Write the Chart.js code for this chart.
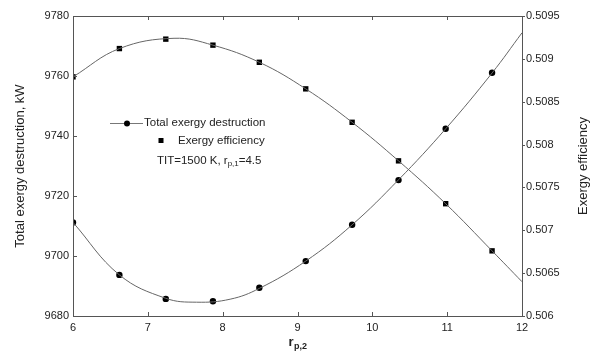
<!DOCTYPE html>
<html>
<head>
<meta charset="utf-8">
<script src="https://cdn.jsdelivr.net/npm/chart.js@4"></script>
<style>
  html, body { margin: 0; padding: 0; background: #fff; }
  #wrap { width: 593px; height: 361px; }
</style>
</head>
<body>
<div id="wrap"><canvas id="chart" width="593" height="361"></canvas></div>
<script>
// marker positions (r_p,2)
const rp2 = [6, 6.62, 7.24, 7.87, 8.49, 9.11, 9.73, 10.35, 10.98, 11.6];
const destruction = [9711.2, 9693.7, 9685.7, 9684.9, 9689.4, 9698.3, 9710.4, 9725.3, 9742.4, 9761.1];
const efficiency = [0.50879, 0.50912, 0.50923, 0.50916, 0.50896, 0.50865, 0.50826, 0.50781, 0.50731, 0.50676];

// fitted curves
const destrCurveX = [6, 6.62, 7.24, 7.65, 8.1, 8.49, 9.11, 9.73, 10.35, 10.98, 11.6, 12];
const destrCurveY = [9711.2, 9693.7, 9685.9, 9684.6, 9685.6, 9689.2, 9698.3, 9710.4, 9725.4, 9742.4, 9761.0, 9774.4];
const effCurveX = [6, 6.62, 7.35, 7.87, 8.49, 9.11, 9.73, 10.35, 10.98, 11.6, 12];
const effCurveY = [0.50879, 0.50912, 0.50924, 0.50916, 0.50896, 0.50865, 0.50826, 0.50781, 0.50731, 0.50676, 0.50640];

const xTicks = [6, 7, 8, 9, 10, 11, 12];
const leftTicks = [9680, 9700, 9720, 9740, 9760, 9780];
const rightTicks = [0.506, 0.5065, 0.507, 0.5075, 0.508, 0.5085, 0.509, 0.5095];

const pts = (xs, ys) => xs.map((x, i) => ({ x: x, y: ys[i] }));
const axisColor = '#555';
const textColor = '#222';
const fam = '"Liberation Sans", Arial, sans-serif';

const frame = {
  id: 'frame',
  afterDraw(chart) {
    const ctx = chart.ctx;
    const a = chart.chartArea;
    const sx = chart.scales.x, yl = chart.scales.y, yr = chart.scales.y2;
    ctx.save();
    ctx.strokeStyle = axisColor;
    ctx.lineWidth = 1;
    ctx.strokeRect(Math.round(a.left) + 0.5, Math.round(a.top) + 0.5, Math.round(a.right - a.left), Math.round(a.bottom - a.top));
    ctx.beginPath();
    xTicks.forEach(v => {
      const px = Math.round(sx.getPixelForValue(v)) + 0.5;
      ctx.moveTo(px, a.bottom); ctx.lineTo(px, a.bottom - 4);
      ctx.moveTo(px, a.top); ctx.lineTo(px, a.top + 4);
    });
    leftTicks.forEach(v => {
      const py = Math.round(yl.getPixelForValue(v)) + 0.5;
      ctx.moveTo(a.left, py); ctx.lineTo(a.left + 4, py);
    });
    rightTicks.forEach(v => {
      const py = Math.round(yr.getPixelForValue(v)) + 0.5;
      ctx.moveTo(a.right, py); ctx.lineTo(a.right + 3, py);
    });
    ctx.stroke();

    // axis titles
    ctx.fillStyle = textColor;
    ctx.font = '13px ' + fam;
    ctx.textAlign = 'center';
    ctx.textBaseline = 'middle';
    ctx.save();
    ctx.translate(20, (a.top + a.bottom) / 2);
    ctx.rotate(-Math.PI / 2);
    ctx.fillText('Total exergy destruction, kW', 0, 0);
    ctx.restore();
    ctx.save();
    ctx.translate(583, (a.top + a.bottom) / 2);
    ctx.rotate(-Math.PI / 2);
    ctx.fillText('Exergy efficiency', 0, 0);
    ctx.restore();

    // x title r_p,2
    ctx.textAlign = 'left';
    ctx.textBaseline = 'alphabetic';
    ctx.font = 'bold 13px ' + fam;
    const rw = ctx.measureText('r').width;
    ctx.font = 'bold 9px ' + fam;
    const sw = ctx.measureText('p,2').width;
    const x0 = (a.left + a.right) / 2 - (rw + sw) / 2;
    ctx.font = 'bold 13px ' + fam;
    ctx.fillText('r', x0, 346);
    ctx.font = 'bold 9px ' + fam;
    ctx.fillText('p,2', x0 + rw + 0.5, 349);

    // legend
    ctx.font = '11.5px ' + fam;
    ctx.textBaseline = 'middle';
    ctx.strokeStyle = '#777';
    ctx.beginPath();
    ctx.moveTo(110, 123.5); ctx.lineTo(143, 123.5);
    ctx.stroke();
    ctx.fillStyle = '#000';
    ctx.beginPath();
    ctx.arc(127, 123.5, 3, 0, Math.PI * 2);
    ctx.fill();
    ctx.fillRect(158.5, 138, 5, 5);
    ctx.fillStyle = textColor;
    ctx.fillText('Total exergy destruction', 144, 123);
    ctx.fillText('Exergy efficiency', 178, 141);
    const t1 = 'TIT=1500 K, r';
    ctx.fillText(t1, 157, 161);
    const tw = ctx.measureText(t1).width;
    ctx.font = '8px ' + fam;
    ctx.fillText('p,1', 157 + tw, 164);
    const tw2 = ctx.measureText('p,1').width;
    ctx.font = '11.5px ' + fam;
    ctx.fillText('=4.5', 157 + tw + tw2, 161);
    ctx.restore();
  }
};

new Chart(document.getElementById('chart'), {
  type: 'line',
  data: {
    datasets: [
      {
        label: 'destruction fit',
        data: pts(destrCurveX, destrCurveY),
        yAxisID: 'y',
        borderColor: '#666',
        borderWidth: 1,
        pointRadius: 0,
        tension: 0.4,
        fill: false
      },
      {
        label: 'Total exergy destruction',
        data: pts(rp2, destruction),
        yAxisID: 'y',
        showLine: false,
        pointStyle: 'circle',
        pointRadius: 3.2,
        pointBackgroundColor: '#000',
        pointBorderColor: '#000',
        pointBorderWidth: 0
      },
      {
        label: 'efficiency fit',
        data: pts(effCurveX, effCurveY),
        yAxisID: 'y2',
        borderColor: '#666',
        borderWidth: 1,
        pointRadius: 0,
        tension: 0.4,
        fill: false
      },
      {
        label: 'Exergy efficiency',
        data: pts(rp2, efficiency),
        yAxisID: 'y2',
        showLine: false,
        pointStyle: 'rect',
        pointRadius: 3.8,
        pointBackgroundColor: '#000',
        pointBorderColor: '#000',
        pointBorderWidth: 0
      }
    ]
  },
  options: {
    responsive: false,
    animation: false,
    layout: { padding: { left: 0, right: 0, top: 16, bottom: 0 } },
    plugins: { legend: { display: false }, tooltip: { enabled: false } },
    scales: {
      x: {
        type: 'linear',
        min: 6, max: 12,
        afterBuildTicks: s => { s.ticks = xTicks.map(v => ({ value: v })); },
        afterFit: s => { s.height = 45; },
        grid: { display: false, drawTicks: false },
        border: { display: false },
        ticks: { color: textColor, padding: 5, font: { size: 11, family: fam }, callback: v => String(v) }
      },
      y: {
        position: 'left',
        min: 9680, max: 9780,
        afterBuildTicks: s => { s.ticks = leftTicks.map(v => ({ value: v })); },
        afterFit: s => { s.width = 73; },
        grid: { display: false, drawTicks: false },
        border: { display: false },
        ticks: { color: textColor, padding: 4, font: { size: 11, family: fam }, callback: v => String(v) }
      },
      y2: {
        position: 'right',
        min: 0.506, max: 0.5095,
        afterBuildTicks: s => { s.ticks = rightTicks.map(v => ({ value: v })); },
        afterFit: s => { s.width = 71; },
        grid: { display: false, drawTicks: false },
        border: { display: false },
        ticks: {
          color: textColor, padding: 4,
          font: { size: 11, family: fam },
          callback: v => String(Number(v.toFixed(4)))
        }
      }
    }
  },
  plugins: [frame]
});
</script>
</body>
</html>
